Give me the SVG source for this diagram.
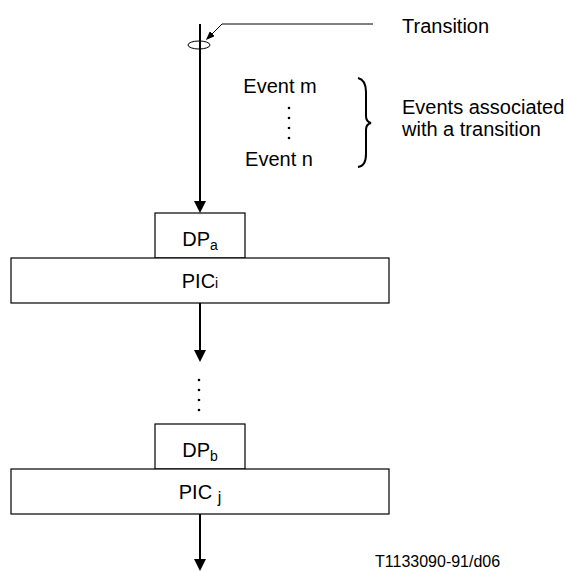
<svg xmlns="http://www.w3.org/2000/svg" width="566" height="571" viewBox="0 0 566 571">
<style>
text{font-family:"Liberation Sans",Arial,sans-serif;font-size:20px;fill:#000}
text.small{font-size:16px}
.box{fill:#fff;stroke:#000;stroke-width:1.2}
.conn{fill:none;stroke:#000;stroke-width:2}
.thin{fill:none;stroke:#000;stroke-width:1}
.sub{font-size:14px}
</style>
<defs>
<marker id="ah" viewBox="0 0 12 12" refX="4" refY="6" markerWidth="12" markerHeight="12" markerUnits="userSpaceOnUse" orient="auto"><path d="M0,0 L12,6 L0,12 z" fill="#000"/></marker>
<marker id="ahs" viewBox="0 0 9 7" refX="3" refY="3.5" markerWidth="9" markerHeight="7" markerUnits="userSpaceOnUse" orient="auto"><path d="M0,0 L9,3.5 L0,7 z" fill="#000"/></marker>
</defs>
<rect width="566" height="571" fill="#fff"/>
<g id="connectors">
<line class="conn" x1="200" y1="24" x2="200" y2="205" marker-end="url(#ah)"/>
<line class="conn" x1="200" y1="303" x2="200" y2="354" marker-end="url(#ah)"/>
<line class="conn" x1="200" y1="514" x2="200" y2="563" marker-end="url(#ah)"/>
<polyline class="thin" points="373,24 222,24 210.2,35.8" marker-end="url(#ahs)"/>
<ellipse class="thin" cx="199" cy="45" rx="11" ry="4"/>
<g fill="#000">
<circle cx="199" cy="380" r="1.3"/><circle cx="199" cy="390" r="1.3"/><circle cx="199" cy="400" r="1.3"/><circle cx="199" cy="410" r="1.3"/>
</g>
</g>
<g id="transition-label"><text x="402" y="33">Transition</text></g>
<g id="events">
<text x="280" y="93" text-anchor="middle">Event m</text>
<g fill="#000"><circle cx="289" cy="108" r="1.3"/><circle cx="289" cy="118" r="1.3"/><circle cx="289" cy="128" r="1.3"/><circle cx="289" cy="138" r="1.3"/></g>
<text x="279" y="166" text-anchor="middle">Event n</text>
</g>
<g id="brace"><path class="conn" d="M358,78 Q366,80 366,92 L366,116 Q366,122 371,123 Q366,124 366,130 L366,154 Q366,166 358,167"/></g>
<g id="events-label">
<text x="402" y="114">Events associated</text>
<text x="402" y="136">with a transition</text>
</g>
<g id="DPa"><rect class="box" x="155" y="213" width="90" height="45"/><text x="200" y="246" text-anchor="middle">DP<tspan class="sub" dy="4">a</tspan></text></g>
<g id="PICi"><rect class="box" x="11" y="258" width="378" height="45"/><text x="200" y="288" text-anchor="middle">PIC<tspan class="sub">i</tspan></text></g>
<g id="DPb"><rect class="box" x="155" y="424" width="90" height="45"/><text x="200" y="457" text-anchor="middle">DP<tspan class="sub" dy="4">b</tspan></text></g>
<g id="PICj"><rect class="box" x="11" y="469" width="378" height="45"/><text x="200" y="499" text-anchor="middle">PIC <tspan font-size="16" dy="4">j</tspan></text></g>
<g id="footer"><text class="small" x="375" y="567">T1133090-91/d06</text></g>
</svg>
